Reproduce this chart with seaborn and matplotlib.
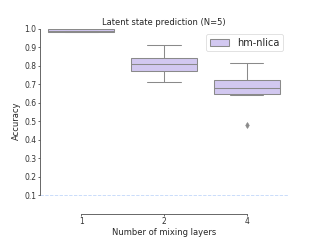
import numpy as np
import pandas as pd
import matplotlib
matplotlib.use("Agg")
import matplotlib.pyplot as plt
import seaborn as sns

# --- Data (accuracy per run) ---
layers_1 = [0.981, 0.982, 0.984, 0.986, 0.988, 0.992, 0.998, 0.999, 0.999]
layers_2 = [0.714, 0.75, 0.774, 0.79, 0.81, 0.825, 0.842, 0.88, 0.914]
layers_4 = [0.479, 0.644, 0.648, 0.66, 0.68, 0.70, 0.722, 0.76, 0.815]
layer_labels = ["1", "2", "4"]
method = "hm-nlica"
chance_level = 0.1

rows = []
for lab, vals in zip(layer_labels, [layers_1, layers_2, layers_4]):
    for v in vals:
        rows.append({"layers": lab, "accuracy": v, "method": method})
df = pd.DataFrame(rows)

sns.set_theme(context="notebook", style="ticks")
fig, ax = plt.subplots(figsize=(6.4, 4.8), dpi=50)
fig.subplots_adjust(left=0.125, right=0.9, top=0.88, bottom=0.11)

line_gray = "#8a8a8a"
sns.boxplot(data=df, x="layers", y="accuracy", hue="method",
            palette=["#cfc1f7"], width=0.8, linewidth=1.5, linecolor=line_gray,
            flierprops=dict(marker="d", markersize=6, markerfacecolor=line_gray,
                            markeredgecolor=line_gray),
            ax=ax)

ax.axhline(chance_level, color="#c6dafa", linestyle="--", linewidth=1.3)

ax.set_ylim(0, 1.0)
ax.set_yticks(np.round(np.arange(0.1, 1.01, 0.1), 1))
ax.set_title("Latent state prediction (N=5)", fontsize=12)
ax.set_xlabel("Number of mixing layers", fontsize=12, labelpad=2)
ax.set_ylabel("Accuracy", fontsize=12)
ax.tick_params(labelsize=11, length=3.5, pad=2)
ax.legend(loc="upper right", fontsize=14)

sns.despine(ax=ax, trim=True)
for s in ["left", "bottom"]:
    ax.spines[s].set_color("#555555")
ax.tick_params(colors="#555555", labelcolor="#333333")

fig.savefig("out.png", dpi=50)
